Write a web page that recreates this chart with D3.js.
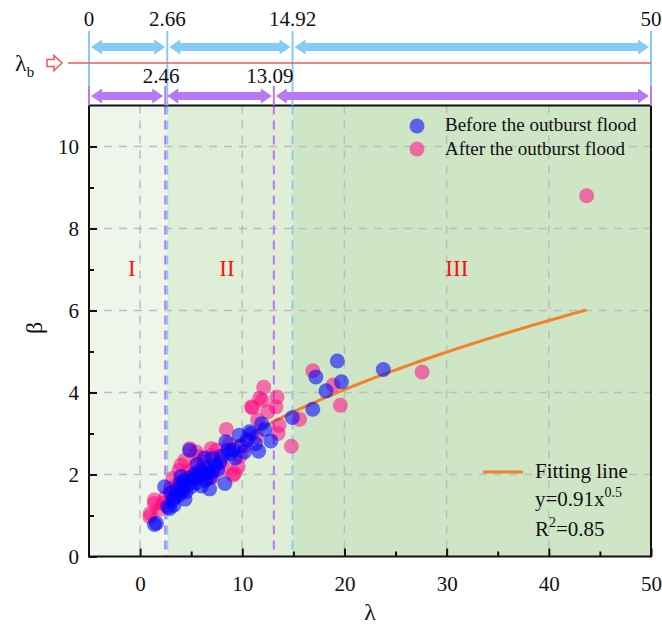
<!DOCTYPE html>
<html>
<head>
<meta charset="utf-8">
<script src="https://cdn.jsdelivr.net/npm/d3@7"></script>
<style>
  html, body { margin: 0; padding: 0; background: #ffffff; }
  svg text { font-family: "Liberation Serif", "Times New Roman", serif; }
</style>
</head>
<body>
<svg id="chart" width="662" height="628"></svg>
<script>
// λ, β pairs before the outburst flood
const beforeFlood = [
  [1.6,0.81],[1.4,0.78],[2.4,1.70],[2.7,1.21],[2.9,1.17],[3.2,1.38],[3.0,1.55],[3.4,1.45],
  [3.6,1.62],[3.8,1.50],[3.9,1.78],[4.1,1.66],[4.3,1.85],[4.5,1.58],[4.6,1.75],[4.8,1.92],
  [5.0,1.70],[5.2,1.88],[5.4,2.02],[5.5,1.80],[5.7,1.95],[5.9,2.10],[6.0,1.72],[6.2,2.00],
  [6.4,1.86],[6.5,2.15],[6.7,2.05],[6.9,1.94],[7.1,2.07],[7.1,2.39],[7.4,2.22],[7.6,2.12],
  [7.8,2.30],[8.0,2.45],[8.3,1.78],[8.4,2.80],[8.6,2.60],[8.9,2.51],[9.1,2.60],[9.3,2.40],
  [9.7,2.96],[9.9,2.70],[10.2,2.55],[10.5,2.85],[10.7,3.04],[10.9,3.00],[11.3,2.75],[11.6,2.57],
  [11.9,3.24],[12.2,3.10],[12.8,2.82],[4.85,2.59],[14.9,3.39],[16.9,3.59],[17.2,4.38],[18.2,4.04],
  [19.3,4.77],[19.7,4.26],[23.8,4.56],[3.3,1.25],[4.0,1.95],[5.6,2.25],[6.3,2.40],[4.4,1.40],[6.8,1.65]
];
// λ, β pairs after the outburst flood
const afterFlood = [
  [0.95,0.97],[1.0,1.05],[1.4,1.29],[1.4,1.38],[1.9,1.15],[2.5,1.45],[3.2,1.90],[3.0,1.65],
  [3.6,1.75],[4.0,2.23],[4.2,1.60],[4.4,2.35],[4.6,2.05],[4.85,2.63],[5.1,1.95],[5.3,2.20],
  [5.8,2.43],[6.0,2.05],[6.3,2.30],[6.6,1.90],[6.97,2.63],[7.0,2.47],[7.1,1.94],[7.5,2.60],
  [7.9,2.35],[8.2,2.15],[8.44,3.10],[8.7,2.75],[9.1,1.99],[9.25,2.03],[9.6,2.19],[9.8,2.45],
  [10.3,2.70],[10.9,3.65],[11.0,3.63],[11.4,2.92],[11.5,3.33],[11.7,3.86],[11.95,3.81],[12.1,4.13],
  [12.5,3.53],[13.3,3.65],[13.4,3.89],[13.5,3.00],[13.6,3.20],[14.8,2.69],[15.6,3.35],[16.9,4.53],
  [18.9,4.18],[19.6,3.69],[27.6,4.50],[43.7,8.80],[5.5,2.55],[3.8,2.10],[2.2,1.30]
];

// λb thresholds (upper bar: before, lower bar: after)
const beforeBounds = [0, 2.66, 14.92, 50];
const afterBounds = [0, 2.46, 13.09, 50];
const regionLabels = ["I", "II", "III"];
const regionLabelX = [-0.8, 8.5, 31.0];

// fitted curve β = a·λ^b over the observed λ range
const fitA = 0.91, fitB = 0.5;
const fitRange = [0.95, 43.7];

const xTicks = [0, 10, 20, 30, 40, 50];
const xMinor = [5, 15, 25, 35, 45];
const yTicks = [0, 2, 4, 6, 8, 10];
const yMinor = [1, 3, 5, 7, 9];

const svg = d3.select("#chart");
const L = 89, R = 651, T = 105.5, B = 556.5;
const x = d3.scaleLinear().domain([-5, 50]).range([L, R]);
const y = d3.scaleLinear().domain([0, 11]).range([B, T]);
// threshold bars start at the left frame of the plot
const barX = v => v <= 0 ? L : x(v);

const blueC = "#84cbf7", purpleC = "#b978f6", redC = "#f05a5a";

// ---- shaded regions ----
const regionFill = ["#eef6eb", "#deeed7", "#cee6c5"];
const edges = [-5, beforeBounds[1], beforeBounds[2], 50];
svg.append("g").selectAll("rect").data(regionFill).join("rect")
  .attr("x", (d, i) => x(edges[i]))
  .attr("y", T)
  .attr("width", (d, i) => x(edges[i + 1]) - x(edges[i]))
  .attr("height", B - T)
  .attr("fill", d => d);

// ---- grid ----
const grid = svg.append("g").attr("stroke", "#bdbdbd").attr("stroke-width", 1.5)
  .attr("stroke-dasharray", "8,7");
grid.selectAll(".gx").data(xTicks.filter(d => d < 50)).join("line")
  .attr("x1", d => x(d)).attr("x2", d => x(d)).attr("y1", T).attr("y2", B);
grid.selectAll(".gy").data(yTicks.filter(d => d > 0)).join("line")
  .attr("x1", L).attr("x2", R).attr("y1", d => y(d)).attr("y2", d => y(d));

// ---- threshold lines in the plot ----
const thr = svg.append("g").attr("stroke-width", 2).attr("stroke-dasharray", "9,6");
thr.selectAll(".tb").data(beforeBounds.slice(1, 3)).join("line")
  .attr("stroke", blueC)
  .attr("x1", d => x(d)).attr("x2", d => x(d)).attr("y1", T).attr("y2", B);
thr.selectAll(".ta").data(afterBounds.slice(1, 3)).join("line")
  .attr("stroke", purpleC)
  .attr("x1", d => x(d)).attr("x2", d => x(d)).attr("y1", T).attr("y2", B);

// ---- region labels ----
svg.append("g").selectAll("text").data(regionLabels).join("text")
  .attr("x", (d, i) => x(regionLabelX[i]))
  .attr("y", y(6.85))
  .attr("text-anchor", "middle")
  .attr("fill", "#ff1010")
  .attr("font-size", 23)
  .text(d => d);

// ---- fitted line (under the points) ----
const fitPts = d3.range(0, 201).map(i => {
  const lam = fitRange[0] + (fitRange[1] - fitRange[0]) * i / 200;
  return [lam, fitA * Math.pow(lam, fitB)];
});
svg.append("path").datum(fitPts)
  .attr("d", d3.line().x(d => x(d[0])).y(d => y(d[1])))
  .attr("fill", "none").attr("stroke", "#f0822a").attr("stroke-width", 3);

// ---- points ----
const r = 7.5;
svg.append("g").selectAll("circle").data(afterFlood).join("circle")
  .attr("cx", d => x(d[0])).attr("cy", d => y(d[1])).attr("r", r)
  .attr("fill", "rgb(255,10,130)").attr("fill-opacity", 0.55);
svg.append("g").selectAll("circle").data(beforeFlood).join("circle")
  .attr("cx", d => x(d[0])).attr("cy", d => y(d[1])).attr("r", r)
  .attr("fill", "rgb(0,0,255)").attr("fill-opacity", 0.57);

// ---- axes ----
svg.append("rect").attr("x", L).attr("y", T).attr("width", R - L).attr("height", B - T)
  .attr("fill", "none").attr("stroke", "#111").attr("stroke-width", 2);

const xAxis = svg.append("g").attr("transform", `translate(0,${B})`)
  .call(d3.axisBottom(x).tickValues(xTicks).tickSize(-8).tickPadding(20).tickFormat(d3.format("d")));
xAxis.select(".domain").remove();
xAxis.selectAll(".tick line").attr("stroke", "#111").attr("stroke-width", 2);
xAxis.selectAll(".tick text").attr("font-size", 21).attr("fill", "#111")
  .attr("font-family", "Liberation Serif");
svg.append("g").attr("transform", `translate(0,${B})`)
  .call(d3.axisBottom(x).tickValues(xMinor).tickSize(-5).tickFormat(""))
  .call(g => g.select(".domain").remove())
  .selectAll(".tick line").attr("stroke", "#111").attr("stroke-width", 2);

const yAxis = svg.append("g").attr("transform", `translate(${L},0)`)
  .call(d3.axisLeft(y).tickValues(yTicks).tickSize(-8).tickPadding(10).tickFormat(d3.format("d")));
yAxis.select(".domain").remove();
yAxis.selectAll(".tick line").attr("stroke", "#111").attr("stroke-width", 2);
yAxis.selectAll(".tick text").attr("font-size", 21).attr("fill", "#111")
  .attr("font-family", "Liberation Serif");
svg.append("g").attr("transform", `translate(${L},0)`)
  .call(d3.axisLeft(y).tickValues(yMinor).tickSize(-5).tickFormat(""))
  .call(g => g.select(".domain").remove())
  .selectAll(".tick line").attr("stroke", "#111").attr("stroke-width", 2);

svg.append("text").attr("x", 370).attr("y", 620).attr("text-anchor", "middle")
  .attr("font-size", 24).attr("fill", "#111").text("λ");
svg.append("text").attr("transform", "translate(42,328) rotate(-90)")
  .attr("text-anchor", "middle").attr("font-size", 24).attr("fill", "#111").text("β");

// ---- legend ----
const leg = svg.append("g");
leg.append("circle").attr("cx", 417).attr("cy", 126).attr("r", r)
  .attr("fill", "rgb(0,0,255)").attr("fill-opacity", 0.57);
leg.append("circle").attr("cx", 417).attr("cy", 149).attr("r", r)
  .attr("fill", "rgb(255,10,130)").attr("fill-opacity", 0.55);
leg.append("text").attr("x", 445).attr("y", 131).attr("font-size", 19).attr("fill", "#111")
  .text("Before the outburst flood");
leg.append("text").attr("x", 445).attr("y", 155).attr("font-size", 19).attr("fill", "#111")
  .text("After the outburst flood");

leg.append("line").attr("x1", 483).attr("x2", 523).attr("y1", 472).attr("y2", 472)
  .attr("stroke", "#f0822a").attr("stroke-width", 3);
leg.append("text").attr("x", 535).attr("y", 478).attr("font-size", 21).attr("fill", "#111")
  .text("Fitting line");
const eq = leg.append("text").attr("x", 535).attr("y", 506).attr("font-size", 21).attr("fill", "#111");
eq.append("tspan").text(`y=${fitA}x`);
eq.append("tspan").attr("font-size", 14).attr("dy", -9).text(fitB);
const r2 = leg.append("text").attr("x", 535).attr("y", 536).attr("font-size", 21).attr("fill", "#111");
r2.append("tspan").text("R");
r2.append("tspan").attr("font-size", 14).attr("dy", -9).text("2");
r2.append("tspan").attr("dy", 9).text("=0.85");

// ---- λb threshold bars above the plot ----
function dblArrow(x1, x2, yc, shaft, headW, headL) {
  return `M${x1},${yc} L${x1 + headL},${yc - headW} L${x1 + headL},${yc - shaft}` +
    ` L${x2 - headL},${yc - shaft} L${x2 - headL},${yc - headW} L${x2},${yc}` +
    ` L${x2 - headL},${yc + headW} L${x2 - headL},${yc + shaft} L${x1 + headL},${yc + shaft}` +
    ` L${x1 + headL},${yc + headW} Z`;
}
const bars = svg.append("g");
// vertical markers
bars.selectAll(".vb").data(beforeBounds).join("line")
  .attr("x1", d => barX(d)).attr("x2", d => barX(d))
  .attr("y1", 31).attr("y2", (d, i) => (i === 0 ? 87 : T))
  .attr("stroke", blueC).attr("stroke-width", 2);
bars.selectAll(".va").data(afterBounds).join("line")
  .attr("x1", d => barX(d)).attr("x2", d => barX(d))
  .attr("y1", 86).attr("y2", T)
  .attr("stroke", purpleC).attr("stroke-width", 2);
// arrows
bars.selectAll(".ab").data(d3.pairs(beforeBounds)).join("path")
  .attr("d", d => dblArrow(barX(d[0]) + 2, barX(d[1]) - 2, 47, 4, 7.5, 11))
  .attr("fill", blueC);
bars.selectAll(".aa").data(d3.pairs(afterBounds)).join("path")
  .attr("d", d => dblArrow(barX(d[0]) + 2, barX(d[1]) - 2, 96, 4, 7.5, 11))
  .attr("fill", purpleC);
// labels
bars.selectAll(".lb").data(beforeBounds).join("text")
  .attr("x", d => barX(d)).attr("y", 26).attr("text-anchor", "middle")
  .attr("font-size", 21).attr("fill", "#111").text(d => d);
bars.selectAll(".la").data(afterBounds.slice(1, 3)).join("text")
  .attr("x", d => barX(d) - 4).attr("y", 83).attr("text-anchor", "middle")
  .attr("font-size", 21).attr("fill", "#111").text(d => d.toFixed(2));
// λb reference line with hollow arrow
bars.append("line").attr("x1", 68).attr("x2", R).attr("y1", 63).attr("y2", 63)
  .attr("stroke", redC).attr("stroke-width", 1.5);
bars.append("path")
  .attr("d", "M47,59.5 L54,59.5 L54,55.5 L62,63 L54,70.5 L54,66.5 L47,66.5 Z")
  .attr("fill", "#fff").attr("stroke", redC).attr("stroke-width", 1.5);
const lb = bars.append("text").attr("x", 15).attr("y", 71).attr("font-size", 24).attr("fill", "#111");
lb.append("tspan").text("λ");
lb.append("tspan").attr("font-size", 15).attr("dy", 6).text("b");
</script>
</body>
</html>
